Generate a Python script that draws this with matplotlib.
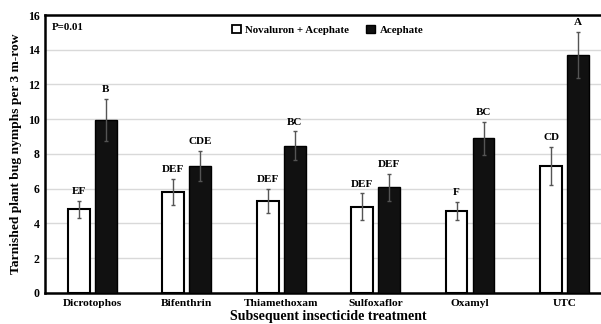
import matplotlib
matplotlib.use("Agg")
import matplotlib.pyplot as plt
import numpy as np
from matplotlib.patches import Patch

categories = ["Dicrotophos", "Bifenthrin", "Thiamethoxam", "Sulfoxaflor", "Oxamyl", "UTC"]
nov_ace = [4.82, 5.83, 5.29, 4.97, 4.72, 7.31]
nov_ace_err = [0.50, 0.75, 0.68, 0.76, 0.51, 1.08]
acephate = [9.95, 7.31, 8.48, 6.08, 8.90, 13.70]
acephate_err = [1.22, 0.88, 0.82, 0.78, 0.96, 1.33]
nov_letters = ["EF", "DEF", "DEF", "DEF", "F", "CD"]
ace_letters = ["B", "CDE", "BC", "DEF", "BC", "A"]
yticks = [0, 2, 4, 6, 8, 10, 12, 14, 16]

plt.rcParams['font.family'] = ['Liberation Serif', 'DejaVu Serif']
plt.rcParams['font.weight'] = 'bold'

fig = plt.figure(figsize=(6.01, 3.24), dpi=100)
ax = fig.add_axes([0.0749, 0.0957, 0.943, 0.858])

x = np.arange(len(categories))
off = 0.143
w = 0.23
ekw = dict(ecolor='#555555', elinewidth=1.0, capsize=1.5, capthick=1.0)
ax.bar(x - off, nov_ace, w, color='white', edgecolor='black', linewidth=1.5,
       yerr=nov_ace_err, error_kw=ekw, zorder=3, label='Novaluron + Acephate')
ax.bar(x + off, acephate, w, color='#111111', edgecolor='black', linewidth=1.0,
       yerr=acephate_err, error_kw=ekw, zorder=3, label='Acephate')

for i in range(len(categories)):
    ax.annotate(nov_letters[i], (x[i] - off, nov_ace[i] + nov_ace_err[i]),
                xytext=(0, 3.5), textcoords='offset points', ha='center', va='bottom',
                fontsize=8, fontweight='bold')
    ax.annotate(ace_letters[i], (x[i] + off, acephate[i] + acephate_err[i]),
                xytext=(0, 3.5), textcoords='offset points', ha='center', va='bottom',
                fontsize=8, fontweight='bold')

ax.set_xlim(-0.5, len(categories) - 0.5)
ax.set_ylim(0, 16)
ax.set_yticks(yticks)
ax.set_xticks(x)
ax.set_xticklabels(categories, fontsize=8.2, fontweight='bold')
ax.tick_params(axis='y', labelsize=8.5, length=0, pad=4)
ax.tick_params(axis='x', length=0, pad=4.5)
for lab in ax.get_yticklabels():
    lab.set_fontweight('bold')
ax.yaxis.grid(True, color='#d9d9d9', linewidth=1.0, zorder=0)
ax.set_axisbelow(True)
for s in ['left', 'top', 'bottom']:
    ax.spines[s].set_linewidth(1.8)
    ax.spines[s].set_color('black')
ax.spines['right'].set_visible(False)

ax.set_ylabel('Tarnished plant bug nymphs per 3 m-row', fontsize=9.7, fontweight='bold', labelpad=4)
ax.set_xlabel('Subsequent insecticide treatment', fontsize=10, fontweight='bold', labelpad=1)

ax.text(0.012, 0.955, 'P=0.01', transform=ax.transAxes, fontsize=7.8, fontweight='bold',
        va='center', ha='left')

handles = [Patch(facecolor='white', edgecolor='black', linewidth=1.3),
           Patch(facecolor='#111111', edgecolor='black')]
leg = ax.legend(handles, ['Novaluron + Acephate', 'Acephate'], loc='upper left',
                bbox_to_anchor=(0.313, 1.0), ncol=2, frameon=False,
                handlelength=0.8, handleheight=0.8, handletextpad=0.4, columnspacing=1.6,
                prop={'weight': 'bold', 'size': 7.8})

fig.savefig('out.png', dpi=100)
